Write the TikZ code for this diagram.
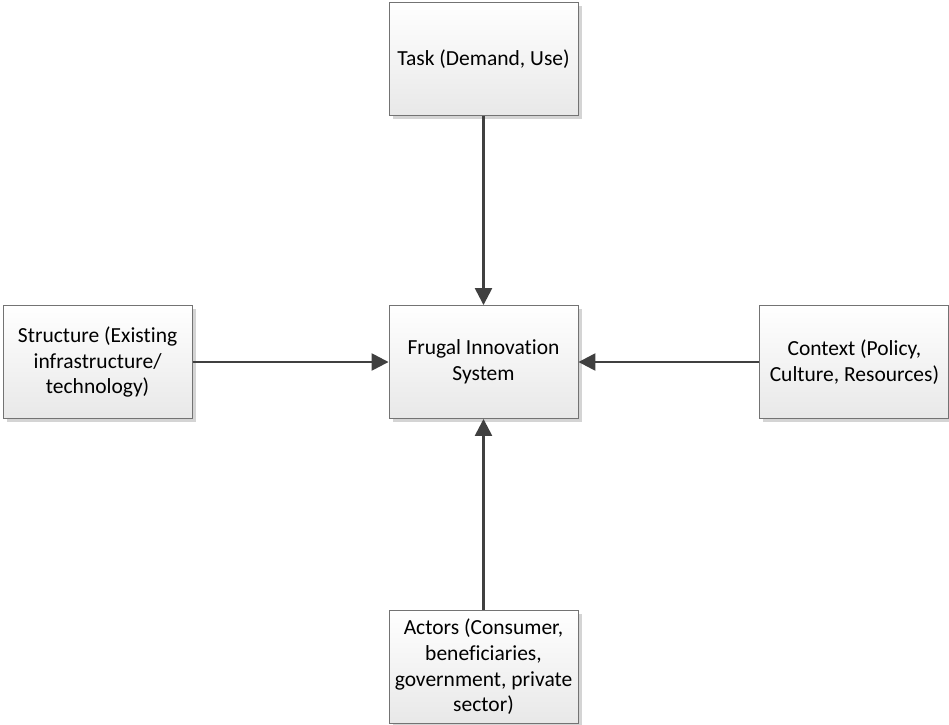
\documentclass[tikz,border=0pt]{standalone}
\usepackage{fontspec}
\setmainfont{Carlito}[Ligatures={NoCommon}]
\usepackage{tikz}
\usetikzlibrary{arrows.meta, positioning, shadows}
\tikzset{
  factor/.style={rectangle, draw=black!55, line width=0.9pt, top color=white, bottom color=black!9, minimum width=189pt, minimum height=113pt, align=center, font=\fontsize{21.5}{25.6}\selectfont, drop shadow={shadow xshift=3.5pt, shadow yshift=-3.5pt, fill=black!17, opacity=1}},
  arrow/.style={line width=2.5pt, draw=black!75, -{Triangle[length=17pt, width=17pt]}}
}
\begin{document}
\begin{tikzpicture}[node distance=189pt]
\useasboundingbox (0,0) rectangle (949pt,724pt);

% Core system
\node (frugal) [factor] at (483.5pt,362pt) {Frugal Innovation\\System};

% Surrounding factors
\node (task) [factor, above=189pt of frugal] {Task (Demand, Use)};
\node (structure) [factor, left=196pt of frugal] {Structure (Existing\\infrastructure/\\technology)};
\node (context) [factor, right=181pt of frugal] {Context (Policy,\\Culture, Resources)};
\node (actors) [factor, below=191pt of frugal] {Actors (Consumer,\\beneficiaries,\\government, private\\sector)};

% Influences
\draw [arrow] (task) -- (frugal);
\draw [arrow] (structure) -- (frugal);
\draw [arrow] (context) -- (frugal);
\draw [arrow] (actors) -- (frugal);

\end{tikzpicture}
\end{document}
